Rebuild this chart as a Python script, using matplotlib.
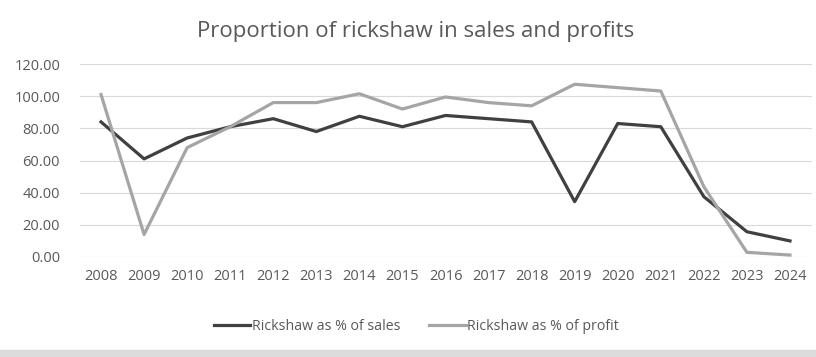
import matplotlib
matplotlib.use("Agg")
import matplotlib.pyplot as plt
from matplotlib.patches import Rectangle

years = ["2008", "2009", "2010", "2011", "2012", "2013", "2014", "2015", "2016",
         "2017", "2018", "2019", "2020", "2021", "2022", "2023", "2024"]
sales_pct = [84, 61, 74, 81, 86, 78, 87.5, 81, 88, 86, 84, 34.4, 83, 81, 37.5, 15.7, 10]
profit_pct = [101, 14, 68, 81, 96, 96, 101.5, 92, 99.5, 96, 94, 107.4, 105.3, 103.2, 43.7, 2.9, 1.2]
yticks = [0, 20, 40, 60, 80, 100, 120]

plt.rcParams['font.family'] = ['Open Sans', 'DejaVu Sans']

fig = plt.figure(figsize=(8.16, 3.57), dpi=100)
ax = fig.add_axes([79.5 / 816, 1 - 257 / 357, (811.5 - 79.5) / 816, (257 - 64) / 357])

x = list(range(len(years)))
ax.plot(x, sales_pct, color="#404040", lw=2.3, label="Rickshaw as % of sales", solid_joinstyle="round")
ax.plot(x, profit_pct, color="#a5a5a5", lw=2.3, label="Rickshaw as % of profit", solid_joinstyle="round")

ax.set_xlim(-0.5, len(years) - 0.5)
ax.set_ylim(0, 120)
ax.set_yticks(yticks)
ax.set_yticklabels([f"{v:.2f}" for v in yticks], color="#595959", fontsize=10.5)
ax.set_xticks(x)
ax.set_xticklabels(years, color="#595959", fontsize=10.5)
ax.tick_params(length=0, pad=9)
ax.tick_params(axis='y', pad=14)
ax.grid(axis='y', color="#d9d9d9", lw=0.8)
ax.set_axisbelow(True)
for s in ax.spines.values():
    s.set_visible(False)

fig.text(415.5 / 816, 1 - 31 / 357, "Proportion of rickshaw in sales and profits",
         ha="center", va="center", fontsize=16, color="#595959")

leg = fig.legend(loc="center", bbox_to_anchor=(0.51, 1 - 326 / 357), ncol=2,
                 frameon=False, fontsize=10.2, handlelength=2.6, handletextpad=0.1,
                 columnspacing=2.0)
for t in leg.get_texts():
    t.set_color("#595959")

fig.patches.append(Rectangle((0, 0), 1, 7 / 357, transform=fig.transFigure,
                             color="#dcdcdc", zorder=0))

fig.savefig("out.png", dpi=100, facecolor="white")
